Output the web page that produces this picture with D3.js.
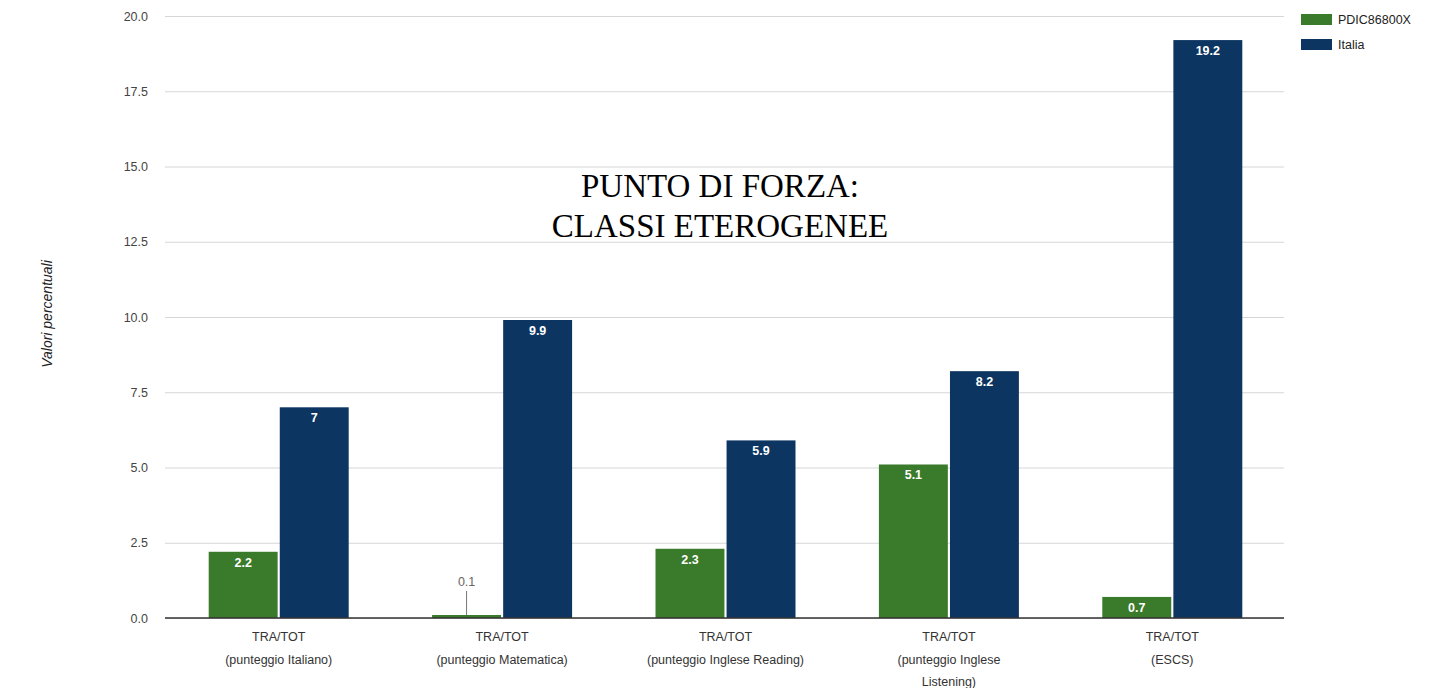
<!DOCTYPE html>
<html>
<head>
<meta charset="utf-8">
<script src="https://cdn.jsdelivr.net/npm/d3@7"></script>
<style>
  body { margin: 0; background: #fff; }
  svg { display: block; font-family: Arial, "Liberation Sans", sans-serif; }
</style>
</head>
<body>
<svg id="chart"></svg>
<script>
const categories = [
  ["TRA/TOT", "(punteggio Italiano)"],
  ["TRA/TOT", "(punteggio Matematica)"],
  ["TRA/TOT", "(punteggio Inglese Reading)"],
  ["TRA/TOT", "(punteggio Inglese", "Listening)"],
  ["TRA/TOT", "(ESCS)"]
];
const seriesNames = ["PDIC86800X", "Italia"];
const schoolValues = [2.2, 0.1, 2.3, 5.1, 0.7];
const italyValues = [7, 9.9, 5.9, 8.2, 19.2];
const yTicks = [0, 2.5, 5, 7.5, 10, 12.5, 15, 17.5, 20];
const colors = ["#3a7a2b", "#0d3561"];

var width = 1435, height = 688;
var svg = d3.select("#chart").attr("width", width).attr("height", height);

var plotLeft = 167, plotRight = 1284, plotTop = 16, plotBottom = 618;

var x0 = d3.scaleBand()
    .domain(d3.range(categories.length))
    .range([plotLeft, plotRight]);

var x1 = d3.scaleBand()
    .domain(seriesNames)
    .range([-70, 70])
    .paddingInner(0.03);

var y = d3.scaleLinear()
    .domain([0, 20])
    .range([plotBottom, plotTop]);

// gridlines + tick labels
var yAxis = d3.axisLeft(y)
    .tickValues(yTicks)
    .tickFormat(d3.format(".1f"))
    .tickSize(0)
    .tickPadding(17);

var gy = svg.append("g")
    .attr("transform", "translate(165,0)")
    .call(yAxis);
gy.select(".domain").remove();
gy.selectAll(".tick line").attr("stroke", "#d6d6d6").attr("x2", plotRight - 165);
gy.selectAll(".tick text")
    .attr("fill", "#444")
    .style("font-size", "12.5px")
    .attr("x", -17);

// y axis title
svg.append("text")
    .attr("transform", "translate(52,314) rotate(-90)")
    .attr("text-anchor", "middle")
    .style("font-size", "14px")
    .style("font-style", "italic")
    .attr("fill", "#222")
    .text("Valori percentuali");

// data rows
var rows = categories.map(function (c, i) {
  return [
    { cat: i, series: seriesNames[0], value: schoolValues[i] },
    { cat: i, series: seriesNames[1], value: italyValues[i] }
  ];
});

var groups = svg.append("g").selectAll("g")
    .data(rows)
    .enter().append("g")
    .attr("transform", function (d, i) {
      return "translate(" + (x0(i) + x0.bandwidth() / 2) + ",0)";
    });

groups.selectAll("rect")
    .data(function (d) { return d; })
    .enter().append("rect")
    .attr("x", function (d) { return x1(d.series); })
    .attr("width", x1.bandwidth())
    .attr("y", function (d) { return y(d.value); })
    .attr("height", function (d) { return y(0) - y(d.value); })
    .attr("fill", function (d, i) { return colors[i]; });

// value labels
groups.selectAll("text.val")
    .data(function (d) { return d; })
    .enter().append("text")
    .attr("class", "val")
    .attr("text-anchor", "middle")
    .attr("x", function (d) { return x1(d.series) + x1.bandwidth() / 2; })
    .attr("y", function (d) {
      return d.value < 0.5 ? y(d.value) - 29 : y(d.value) + 15;
    })
    .attr("fill", function (d) { return d.value < 0.5 ? "#666" : "#fff"; })
    .style("font-size", "12.5px")
    .style("font-weight", function (d) { return d.value < 0.5 ? "normal" : "bold"; })
    .text(function (d) { return d.value; });

// leader line for tiny bar
groups.selectAll("line.lead")
    .data(function (d) { return d.filter(function (e) { return e.value < 0.5; }); })
    .enter().append("line")
    .attr("class", "lead")
    .attr("x1", function (d) { return x1(d.series) + x1.bandwidth() / 2; })
    .attr("x2", function (d) { return x1(d.series) + x1.bandwidth() / 2; })
    .attr("y1", function (d) { return y(d.value) - 24; })
    .attr("y2", function (d) { return y(d.value); })
    .attr("stroke", "#777");

// baseline
svg.append("line")
    .attr("x1", 165).attr("x2", plotRight)
    .attr("y1", y(0)).attr("y2", y(0))
    .attr("stroke", "#333").attr("stroke-width", 1.5);

// category labels
var catLabels = svg.append("g").selectAll("text")
    .data(categories)
    .enter().append("text")
    .attr("text-anchor", "middle")
    .attr("fill", "#333")
    .style("font-size", "12.5px")
    .attr("transform", function (d, i) {
      return "translate(" + (x0(i) + x0.bandwidth() / 2) + ",641)";
    });
catLabels.selectAll("tspan")
    .data(function (d) { return d; })
    .enter().append("tspan")
    .attr("x", 0)
    .attr("y", function (d, i) { return i * 22.5; })
    .text(function (d) { return d; });

// legend
var legend = svg.append("g").selectAll("g")
    .data(seriesNames)
    .enter().append("g")
    .attr("transform", function (d, i) { return "translate(1301," + (14 + i * 25) + ")"; });
legend.append("rect")
    .attr("width", 31).attr("height", 11)
    .attr("fill", function (d, i) { return colors[i]; });
legend.append("text")
    .attr("x", 37).attr("y", 10)
    .attr("fill", "#222")
    .style("font-size", "12.5px")
    .text(function (d) { return d; });

// overlay title
var titleLines = ["PUNTO DI FORZA:", "CLASSI ETEROGENEE"];
svg.append("rect")
    .attr("x", 530).attr("y", 168).attr("width", 385).attr("height", 72)
    .attr("fill", "#fff");
svg.append("g").selectAll("text")
    .data(titleLines)
    .enter().append("text")
    .attr("x", 720)
    .attr("y", function (d, i) { return 197 + i * 40; })
    .attr("text-anchor", "middle")
    .attr("fill", "#000")
    .style("font-family", "'Liberation Serif', 'DejaVu Serif', serif")
    .style("font-size", "33px")
    .text(function (d) { return d; });
</script>
</body>
</html>
